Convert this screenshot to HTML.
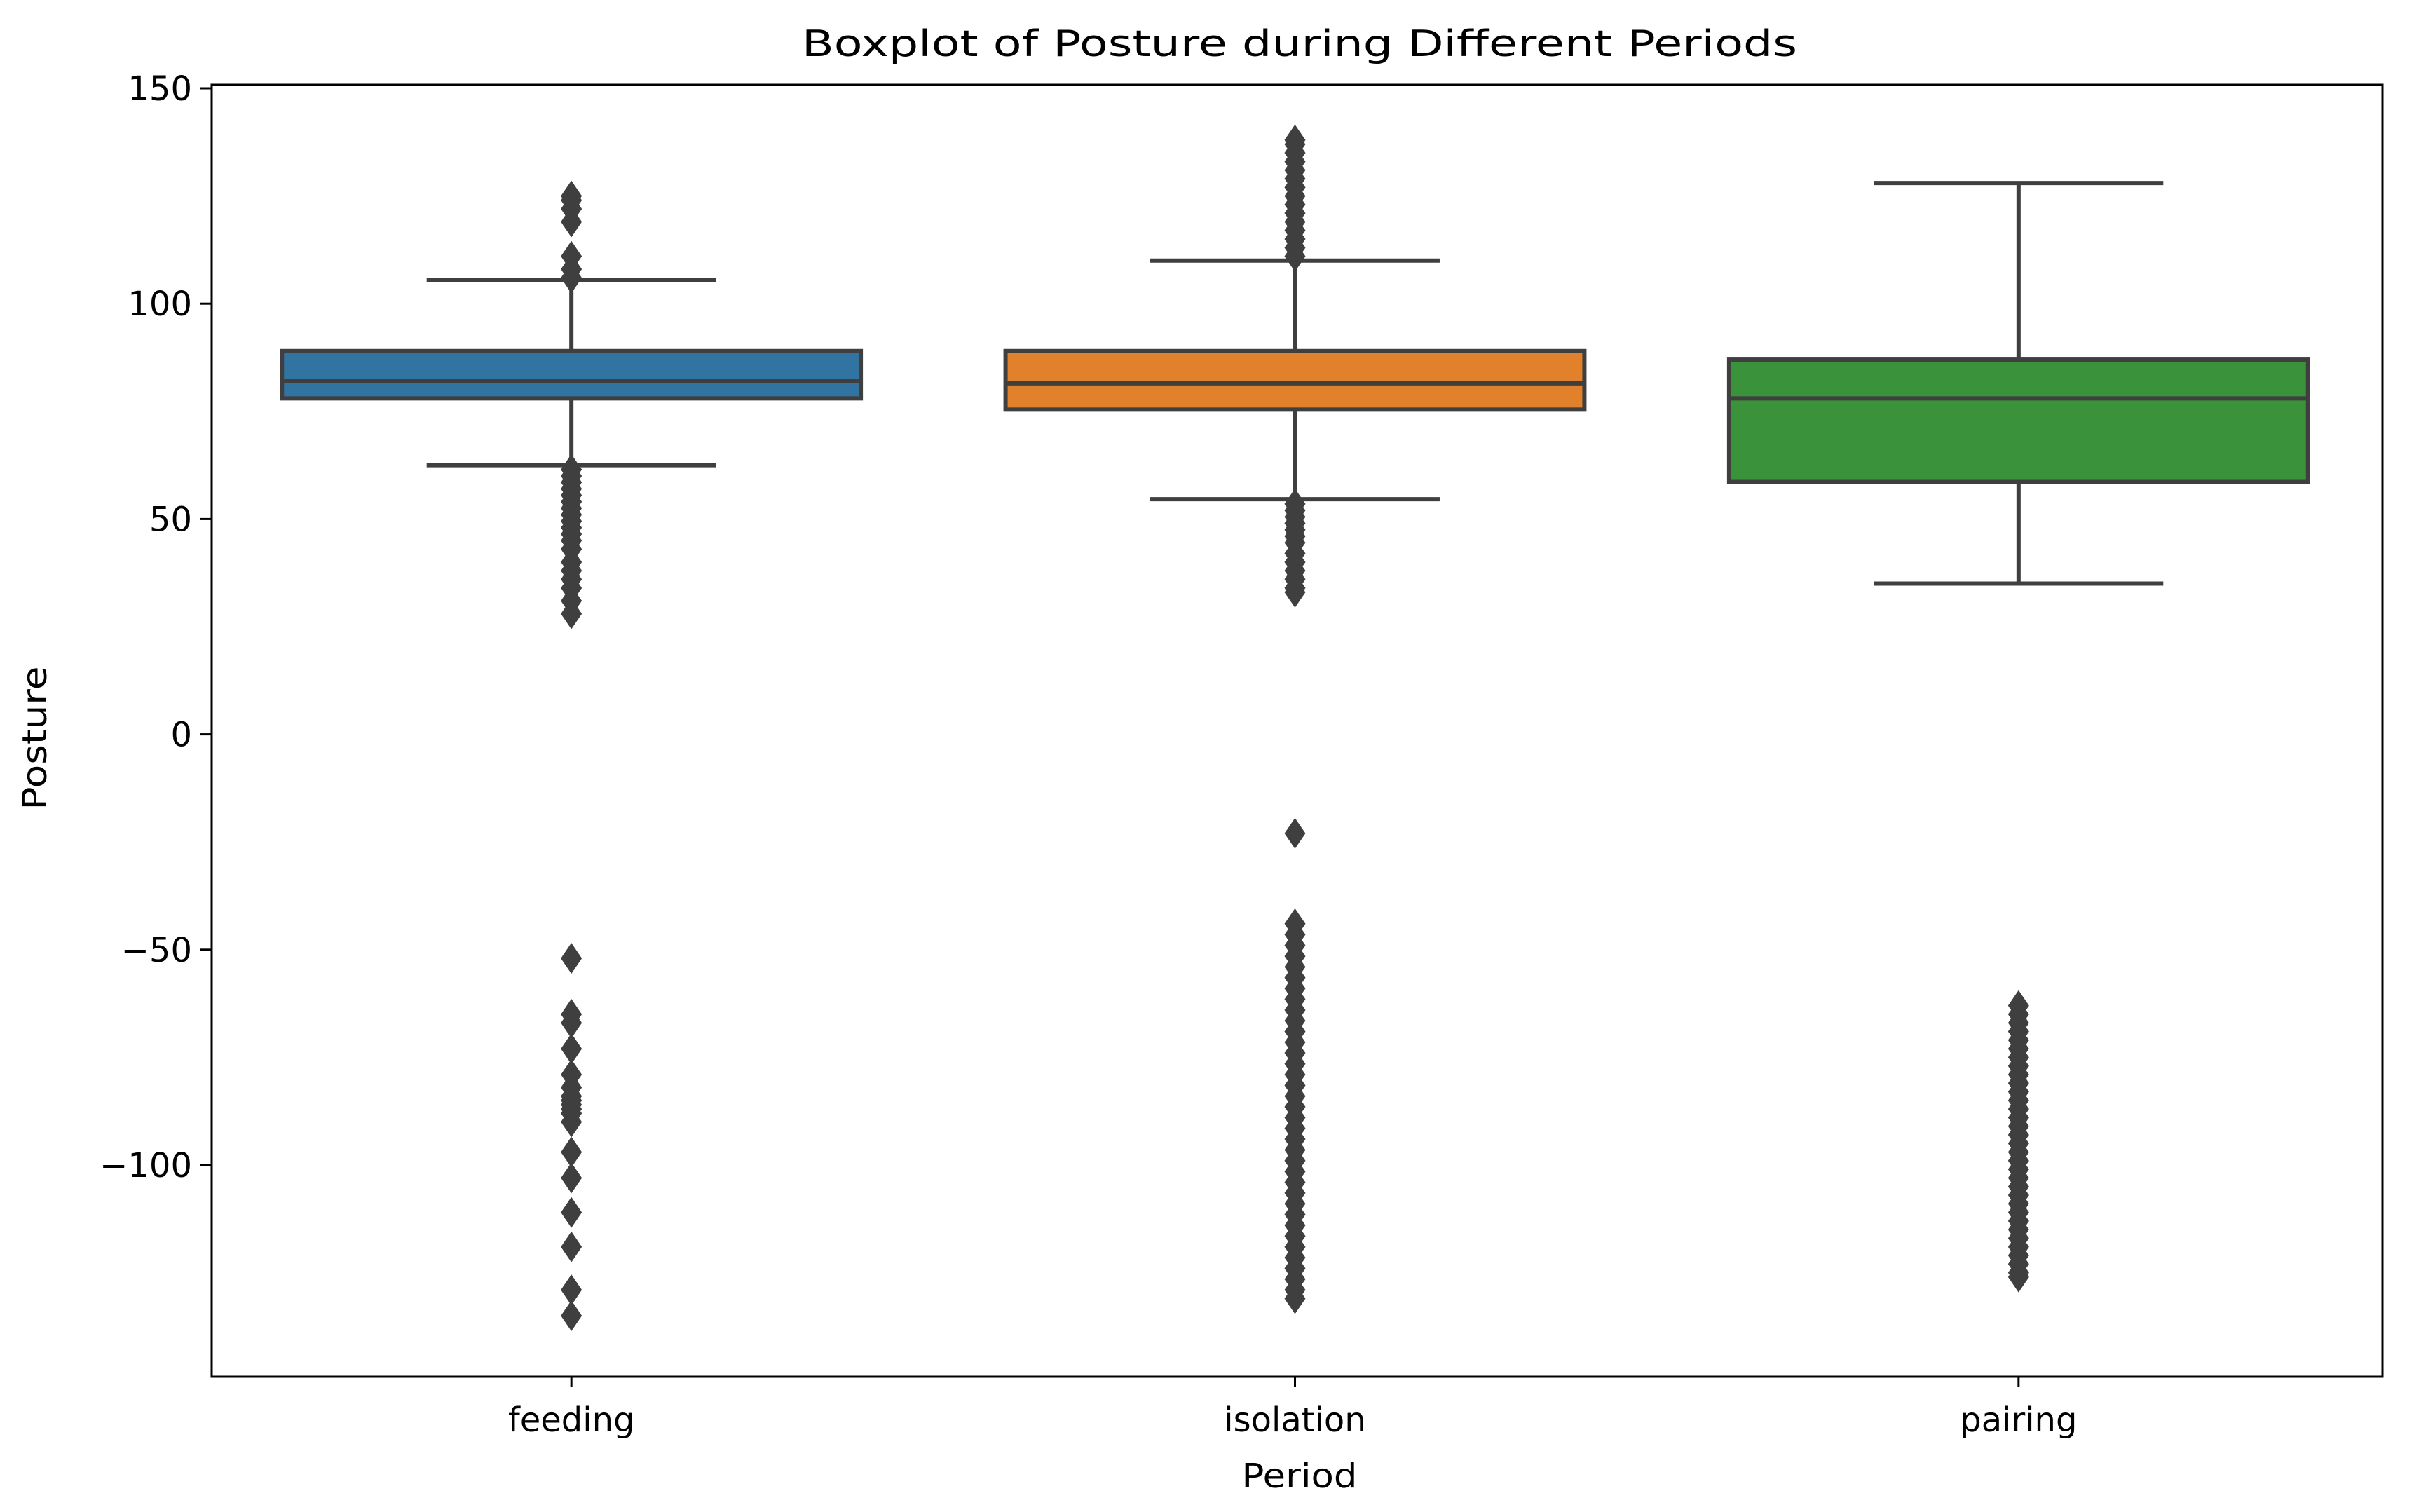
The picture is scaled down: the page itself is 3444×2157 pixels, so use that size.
<!DOCTYPE html>
<html><head><meta charset="utf-8"><style>
html,body{margin:0;padding:0;background:#fff;}
svg{display:block;font-family:"DejaVu Sans","Liberation Sans",sans-serif;}
</style></head><body>
<svg id="chart" width="3444" height="2157" viewBox="0 0 3444 2157" xmlns="http://www.w3.org/2000/svg">
<rect x="0" y="0" width="3444" height="2157" fill="#fff"/>
<text x="1854" y="80" font-size="52" text-anchor="middle" fill="#000" textLength="1420" lengthAdjust="spacingAndGlyphs">Boxplot of Posture during Different Periods</text>
<g id="plot"></g>
<g id="axes"></g>
<text x="1854" y="2122" font-size="48" text-anchor="middle" fill="#000" textLength="165" lengthAdjust="spacingAndGlyphs">Period</text>
<text x="0" y="0" font-size="48" text-anchor="middle" fill="#000" transform="translate(66,1053) rotate(-90)" textLength="205" lengthAdjust="spacingAndGlyphs">Posture</text>
</svg>
<script>
const categories = ["feeding", "isolation", "pairing"];
const colors = ["#3274a1", "#e1812c", "#3a923a"];
const q1 = [78, 75.4, 58.6];
const medians = [82, 81.5, 78];
const q3 = [89, 89, 87];
const whiskerLow = [62.5, 54.6, 35];
const whiskerHigh = [105.4, 110, 128];
const yTicks = [150, 100, 50, 0, -50, -100];
const yTickLabels = ["150", "100", "50", "0", "\u221250", "\u2212100"];
const outliersFeeding = [106,108,111,119,122,124,125,
  61.5,60,58.5,57,55.5,54,52.5,51,49.5,48,46.5,45,43,40,38,36,34,31,28,
  -52,-65,-67,-73,-79,-82,-84,-85,-86,-87,-88,-90,-97,-103,-111,-119,-129,-135];
const outliersIsolation = [111,113,115,117,119,121,123,125,127,129,131,133,135,137,138,
  53.5,52,50.5,49,47.5,46,44.5,42,40,38,36,34,33,
  -23,-44,-46.5,-49,-51.5,-54,-56.5,-59,-61.5,-64,-66.5,-69,-71.5,-74,-76.5,-79,-81.5,-84,-86.5,-89,-91.5,-94,-96.5,-99,-101.5,-104,-106.5,-109,-111.5,-114,-116.5,-119,-121.5,-124,-126.5,-129,-131];
const outliersPairing = [-63,-65,-67,-69,-71,-73,-75,-77,-79,-81,-83,-85,-87,-89,-91,-93,-95,-97,-99,-101,-103,-105,-107,-109,-111,-113,-115,-117,-119,-121,-123,-125,-126];
const outliers = [outliersFeeding, outliersIsolation, outliersPairing];

const NS = "http://www.w3.org/2000/svg";
const L = 302, R = 3399, T = 121, B = 1964;
const yv0 = 150, yp0 = 126, yv1 = -100, yp1 = 1662;
function y(v){ return yp0 + (v - yv0) * (yp1 - yp0) / (yv1 - yv0); }
const band = (R - L) / categories.length;
function x(i){ return L + band * (i + 0.5) - 3; }
function mk(tag, attrs, parent){ const e = document.createElementNS(NS, tag); for (const k in attrs) e.setAttribute(k, attrs[k]); parent.appendChild(e); return e; }
const plot = document.getElementById("plot");
const axes = document.getElementById("axes");
const LC = "#3f3f3f";
const boxW = band * 0.8, capW = boxW / 2;

categories.forEach((c, i) => {
  const cx = x(i);
  const g = mk("g", {}, plot);
  
  
  const w1 = mk("line", {x1: cx, x2: cx, y1: y(q3[i]), y2: y(whiskerHigh[i]), stroke: LC, "stroke-width": 6}, g);
  
  
  const w2 = mk("line", {x1: cx, x2: cx, y1: y(q1[i]), y2: y(whiskerLow[i]), stroke: LC, "stroke-width": 6}, g);
  
  
  const c1 = mk("line", {x1: cx - capW/2, x2: cx + capW/2, y1: y(whiskerHigh[i]), y2: y(whiskerHigh[i]), stroke: LC, "stroke-width": 6}, g);
  
  
  const c2 = mk("line", {x1: cx - capW/2, x2: cx + capW/2, y1: y(whiskerLow[i]), y2: y(whiskerLow[i]), stroke: LC, "stroke-width": 6}, g);
  
  
  const r = mk("rect", {x: cx - boxW/2, y: y(q3[i]), width: boxW, height: y(q1[i]) - y(q3[i]), fill: colors[i], stroke: LC, "stroke-width": 6}, g);
  
  
  const m = mk("line", {x1: cx - boxW/2, x2: cx + boxW/2, y1: y(medians[i]), y2: y(medians[i]), stroke: LC, "stroke-width": 6}, g);
  
  
  outliers[i].forEach(v => {
    const py = y(v);
    const p = mk("polygon", {points: `${cx},${py-22} ${cx+15},${py} ${cx},${py+22} ${cx-15},${py}`, fill: LC}, g);
    
    
  });
  const t = mk("line", {x1: cx, x2: cx, y1: B, y2: B + 15, stroke: "#000", "stroke-width": 3}, axes);
  
  
  const lab = mk("text", {x: cx, y: 2042, "font-size": 48, "text-anchor": "middle", fill: "#000"}, axes);
  lab.textContent = c;
  
  
});

yTicks.forEach((v, k) => {
  const py = y(v);
  const t = mk("line", {x1: L - 16, x2: L, y1: py, y2: py, stroke: "#000", "stroke-width": 3}, axes);
  
  
  const lab = mk("text", {x: L - 28, y: py + 17, "font-size": 48, "text-anchor": "end", fill: "#000"}, axes);
  lab.textContent = yTickLabels[k];
  
  
});
const frame = mk("rect", {x: L, y: T, width: R - L, height: B - T, fill: "none", stroke: "#000", "stroke-width": 3}, axes);


</script>
</body></html>
